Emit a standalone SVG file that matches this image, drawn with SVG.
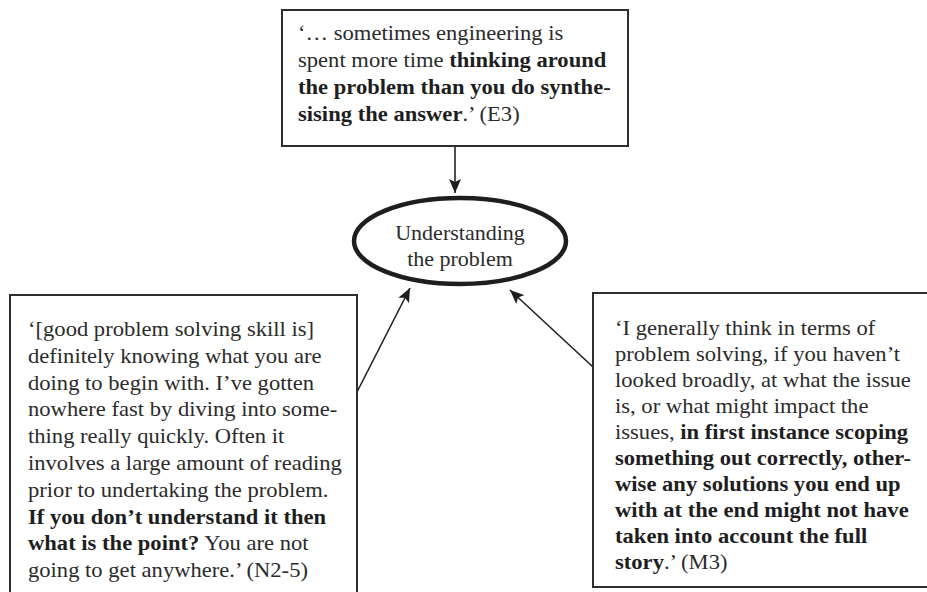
<svg xmlns="http://www.w3.org/2000/svg" width="927" height="592" viewBox="0 0 927 592">
  <style>
    .box { fill: #ffffff; stroke: #2e2e2e; stroke-width: 2; }
    .hub { fill: #ffffff; stroke: #1e1e1e; stroke-width: 4.5; }
    .quote { font-family: 'Liberation Serif', 'Times New Roman', serif; font-size: 20px; fill: #2b2b2b; }
    .hubtext { font-family: 'Liberation Serif', 'Times New Roman', serif; font-size: 22px; fill: #2b2b2b; text-anchor: middle; }
    .b { font-weight: bold; fill: #1e1e1e; }
    .link { stroke: #222222; stroke-width: 1.6; fill: none; marker-end: url(#head); }
  </style>
  <defs>
    <!-- filled arrowhead with a shallow notch at the back -->
    <marker id="head" markerUnits="userSpaceOnUse" markerWidth="15" markerHeight="12" refX="14" refY="6" orient="auto">
      <path d="M0,0 L14,6 L0,12 L3,6 z" fill="#1e1e1e"/>
    </marker>
  </defs>
  <rect width="927" height="592" fill="#ffffff"/>

  <g id="connectors">
    <line class="link" x1="455" y1="147" x2="455" y2="193"/>
    <line class="link" x1="357" y1="392" x2="410" y2="288"/>
    <line class="link" x1="593" y1="367" x2="510" y2="290"/>
  </g>

  <!-- quotation boxes use a slightly widened serif face -->
  <g id="quote-e3">
    <rect class="box" x="282" y="10" width="346" height="136"/>
    <g class="quote" transform="translate(298,0) scale(1.13,1)">
      <text x="0" y="40">‘… sometimes engineering is</text>
      <text x="0" y="67">spent more time <tspan class="b">thinking around</tspan></text>
      <text x="0" y="94" class="b">the problem than you do synthe-</text>
      <text x="0" y="121"><tspan class="b">sising the answer</tspan>.’ (E3)</text>
    </g>
  </g>

  <g id="understanding">
    <ellipse class="hub" cx="460" cy="241" rx="106" ry="43"/>
    <text class="hubtext" x="460" y="240">Understanding</text>
    <text class="hubtext" x="460" y="266">the problem</text>
  </g>

  <g id="quote-n2-5">
    <rect class="box" x="10" y="295" width="347" height="310"/>
    <g class="quote" transform="translate(28,0) scale(1.13,1)">
      <text x="0" y="336">‘[good problem solving skill is]</text>
      <text x="0" y="363">definitely knowing what you are</text>
      <text x="0" y="390">doing to begin with. I’ve gotten</text>
      <text x="0" y="416">nowhere fast by diving into some-</text>
      <text x="0" y="443">thing really quickly. Often it</text>
      <text x="0" y="470">involves a large amount of reading</text>
      <text x="0" y="497">prior to undertaking the problem.</text>
      <text x="0" y="524" class="b">If you don’t understand it then</text>
      <text x="0" y="550"><tspan class="b">what is the point?</tspan> You are not</text>
      <text x="0" y="577">going to get anywhere.’ (N2-5)</text>
    </g>
  </g>

  <g id="quote-m3">
    <rect class="box" x="593" y="293" width="345" height="294"/>
    <g class="quote" transform="translate(615,0) scale(1.13,1)">
      <text x="0" y="335">‘I generally think in terms of</text>
      <text x="0" y="361">problem solving, if you haven’t</text>
      <text x="0" y="387">looked broadly, at what the issue</text>
      <text x="0" y="413">is, or what might impact the</text>
      <text x="0" y="439">issues, <tspan class="b">in first instance scoping</tspan></text>
      <text x="0" y="465" class="b">something out correctly, other-</text>
      <text x="0" y="491" class="b">wise any solutions you end up</text>
      <text x="0" y="517" class="b">with at the end might not have</text>
      <text x="0" y="543" class="b">taken into account the full</text>
      <text x="0" y="569"><tspan class="b">story</tspan>.’ (M3)</text>
    </g>
  </g>
</svg>
